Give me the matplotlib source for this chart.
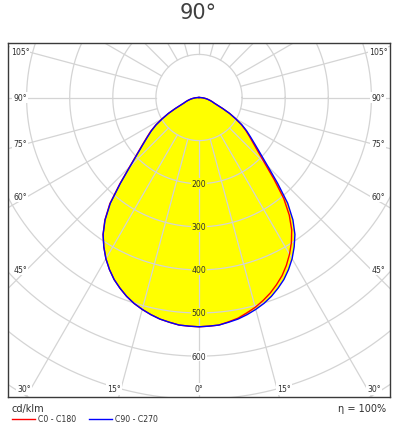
import numpy as np
import matplotlib.pyplot as plt
from matplotlib.lines import Line2D

# luminous intensity (cd/klm) per half plane, gamma 0 = straight down
gamma = [0, 2.5, 5, 7.5, 10, 12.5, 15, 17.5, 20, 22.5, 25, 27.5, 30, 32.5, 35, 37.5, 40, 42.5, 45,
         47.5, 50, 52.5, 55, 57.5, 60, 62.5, 65, 67.5, 70, 72.5, 75, 77.5, 80, 82.5, 85, 87.5, 90]
c0 = [532, 531, 530, 525, 520, 512, 504, 494, 483, 470, 456, 439, 420, 399, 375, 344, 306, 258, 216,
      186, 164, 147, 132, 116, 97, 80, 61, 46, 37, 32, 27, 22, 18, 13, 9, 4, 0]
c90 = [532, 531, 530, 526, 522, 516, 509, 501, 491, 479, 466, 450, 432, 411, 388, 358, 320, 270, 226,
       194, 170, 151, 135, 118, 98, 80, 61, 46, 37, 32, 27, 22, 18, 13, 9, 4, 0]
c180 = [532, 531, 530, 526, 522, 516, 509, 501, 491, 479, 466, 450, 432, 411, 388, 359, 322, 272, 228,
        196, 172, 153, 137, 119, 99, 80, 61, 46, 37, 32, 27, 22, 18, 13, 9, 4, 0]
c270 = [532, 531, 530, 526, 522, 516, 509, 501, 491, 479, 466, 450, 432, 411, 388, 358, 320, 270, 226,
        194, 170, 151, 135, 118, 98, 80, 61, 46, 37, 32, 27, 22, 18, 13, 9, 4, 0]

rings = [100, 200, 300, 400, 500, 600, 700, 800, 900, 1000]
ring_labels = [200, 300, 400, 500, 600]
side_angles = [45, 60, 75, 90, 105]
bottom_angles = [0, 15, 30]
title = "90°"
unit = "cd/klm"
eta_text = "η = 100%"
legend_names = ["C0 - C180", "C90 - C270"]

W, H = 397, 427
scale = 0.431  # px per cd/klm
grid_col = '#d4d4d4'
txt_col = '#303030'

fig = plt.figure(figsize=(W / 100, H / 100), dpi=100)
ax = fig.add_axes([8 / W, 29 / H, 382 / W, 354 / H])
ax.set_xlim(-191 / scale, 191 / scale)
ax.set_ylim(-299.5 / scale, 54.5 / scale)
ax.set_xticks([])
ax.set_yticks([])
for sp in ax.spines.values():
    sp.set_color('#3a3a3a')
    sp.set_linewidth(1.0)

g = np.radians(gamma)


def curve(right, left):
    r = np.array(right)
    l = np.array(left)
    x = np.concatenate([-l[::-1] * np.sin(g[::-1]), r * np.sin(g)])
    y = np.concatenate([-l[::-1] * np.cos(g[::-1]), -r * np.cos(g)])
    return x, y


x_red, y_red = curve(c0, c180)
x_blue, y_blue = curve(c90, c270)
ax.fill(x_red, y_red, color='#ffff00', lw=0, zorder=1)
ax.fill(x_blue, y_blue, color='#ffff00', lw=0, zorder=1)

# polar grid
t = np.linspace(0, 2 * np.pi, 720)
for r in rings:
    ax.plot(r * np.cos(t), r * np.sin(t), color=grid_col, lw=0.9, zorder=2)
for a in range(0, 360, 15):
    th = np.radians(a)
    ax.plot([rings[0] * np.sin(th), 3000 * np.sin(th)],
            [-rings[0] * np.cos(th), -3000 * np.cos(th)],
            color=grid_col, lw=0.9, zorder=2)

ax.plot(x_red, y_red, color='red', lw=1.0, zorder=3)
ax.plot(x_blue, y_blue, color='blue', lw=1.0, zorder=3)

for r in ring_labels:
    bg = '#ffff00' if r < max(c90) else 'white'
    ax.text(0, -r, str(r), ha='center', va='center', fontsize=5.6, color=txt_col,
            bbox=dict(boxstyle='square,pad=0.1', fc=bg, ec='none'), zorder=4)

lab_x = 179 / scale
for a in side_angles:
    y = -(172 / scale) / np.tan(np.radians(a))
    for s in (-1, 1):
        ax.text(s * lab_x, y, f"{a}°", ha='center', va='center', fontsize=5.6, color=txt_col,
                bbox=dict(boxstyle='square,pad=0.15', fc='white', ec='none'), zorder=4)

lab_y = -291.5 / scale
for a in bottom_angles:
    x = -lab_y * np.tan(np.radians(a))
    if a == 0:
        ax.text(0, lab_y, f"{a}°", ha='center', va='center', fontsize=5.6, color=txt_col,
                bbox=dict(boxstyle='square,pad=0.15', fc='white', ec='none'), zorder=4)
    else:
        ax.text(-x, lab_y, f"{a}°", ha='right', va='center', fontsize=5.6, color=txt_col,
                bbox=dict(boxstyle='square,pad=0.15', fc='white', ec='none'), zorder=4)
        ax.text(x, lab_y, f"{a}°", ha='left', va='center', fontsize=5.6, color=txt_col,
                bbox=dict(boxstyle='square,pad=0.15', fc='white', ec='none'), zorder=4)

fig.text(0.5, 1 - 13 / H, title, ha='center', va='center', fontsize=15, color='#404040')
fig.text(12 / W, 1 - 409 / H, unit, ha='left', va='center', fontsize=7, color=txt_col)
fig.text(386 / W, 1 - 409 / H, eta_text, ha='right', va='center', fontsize=7, color=txt_col)

handles = [Line2D([], [], color='red', lw=1.0), Line2D([], [], color='blue', lw=1.0)]
fig.legend(handles, legend_names, loc='center left', bbox_to_anchor=(12 / W, 1 - 420 / H),
           ncol=2, frameon=False, fontsize=5.6, handlelength=2.9, handletextpad=0.5,
           columnspacing=1.6, borderpad=0, borderaxespad=0, labelcolor=txt_col)

fig.savefig('out.png', dpi=100)
